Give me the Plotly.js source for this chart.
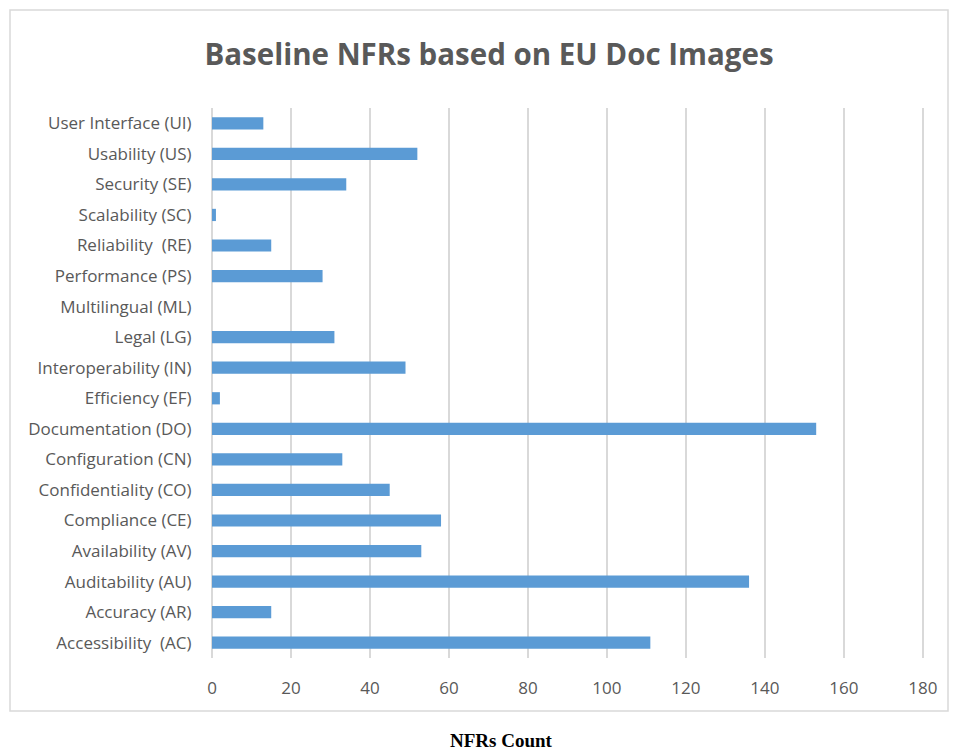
<!DOCTYPE html>
<html>
<head>
<meta charset="utf-8">
<script src="https://cdn.plot.ly/plotly-3.0.1.min.js"></script>
<style>
  html, body { margin: 0; padding: 0; background: #ffffff; }
  #chart { width: 953px; height: 752px; }
</style>
</head>
<body>
<div id="chart"></div>
<script>
// Categories listed bottom to top (as drawn on the y axis)
const categories = [
  "Accessibility  (AC)",
  "Accuracy (AR)",
  "Auditability (AU)",
  "Availability (AV)",
  "Compliance (CE)",
  "Confidentiality (CO)",
  "Configuration (CN)",
  "Documentation (DO)",
  "Efficiency (EF)",
  "Interoperability (IN)",
  "Legal (LG)",
  "Multilingual (ML)",
  "Performance (PS)",
  "Reliability  (RE)",
  "Scalability (SC)",
  "Security (SE)",
  "Usability (US)",
  "User Interface (UI)"
];
const nfrCounts = [111, 15, 136, 53, 58, 45, 33, 153, 2, 49, 31, 0, 28, 15, 1, 34, 52, 13];
const xTickValues = [0, 20, 40, 60, 80, 100, 120, 140, 160, 180];
const chartTitle = "Baseline NFRs based on EU Doc Images";
const xAxisLabel = "NFRs Count";

const trace = {
  type: "bar",
  orientation: "h",
  y: categories,
  x: nfrCounts,
  marker: { color: "#5b9bd5" },
  hoverinfo: "x+y"
};

const W = 953, H = 752;
const mL = 212, mR = 29, mT = 108, mB = 94;
const pw = W - mL - mR, ph = H - mT - mB;
function px2x(px) { return (px - mL) / pw; }
function py2y(py) { return (H - mB - py) / ph; }

const layout = {
  width: W,
  height: H,
  margin: { l: mL, r: mR, t: mT, b: mB, pad: 0 },
  paper_bgcolor: "#ffffff",
  plot_bgcolor: "#ffffff",
  showlegend: false,
  bargap: 0.6,
  font: { family: "'Open Sans', sans-serif", color: "#595959" },
  title: {
    text: chartTitle,
    font: { family: "'Open Sans', sans-serif", size: 29.5, color: "#595959", weight: "bold" },
    x: px2x(489), xref: "paper", xanchor: "center",
    y: 1 - 55 / H, yref: "container", yanchor: "middle"
  },
  xaxis: {
    range: [0, 180.3],
    tickvals: xTickValues,
    ticktext: xTickValues.map(String),
    showgrid: true,
    gridcolor: "#d9d9d9",
    gridwidth: 1.5,
    zeroline: true,
    zerolinecolor: "#d9d9d9",
    zerolinewidth: 1.5,
    showline: false,
    ticks: "outside",
    ticklen: 15,
    tickcolor: "rgba(0,0,0,0)",
    tickfont: { family: "'Open Sans', sans-serif", size: 17, color: "#595959" },
    fixedrange: true
  },
  yaxis: {
    type: "category",
    categoryorder: "array",
    categoryarray: categories,
    showgrid: false,
    zeroline: false,
    showline: false,
    ticks: "outside",
    ticklen: 16,
    tickcolor: "rgba(0,0,0,0)",
    tickfont: { family: "'Open Sans', sans-serif", size: 17, color: "#595959" },
    fixedrange: true
  },
  shapes: [{
    type: "rect",
    xref: "paper", yref: "paper",
    x0: px2x(10), x1: px2x(948),
    y0: py2y(711), y1: py2y(10),
    line: { color: "#d9d9d9", width: 1.5 },
    fillcolor: "rgba(0,0,0,0)",
    layer: "below"
  }],
  annotations: [{
    text: "<b>" + xAxisLabel + "</b>",
    xref: "paper", yref: "paper",
    x: px2x(501), y: py2y(740),
    xanchor: "center", yanchor: "middle",
    showarrow: false,
    font: { family: "'Liberation Serif', 'Times New Roman', serif", size: 19, color: "#000000" }
  }]
};

Plotly.newPlot("chart", [trace], layout, { displayModeBar: false, staticPlot: true });
</script>
</body>
</html>
